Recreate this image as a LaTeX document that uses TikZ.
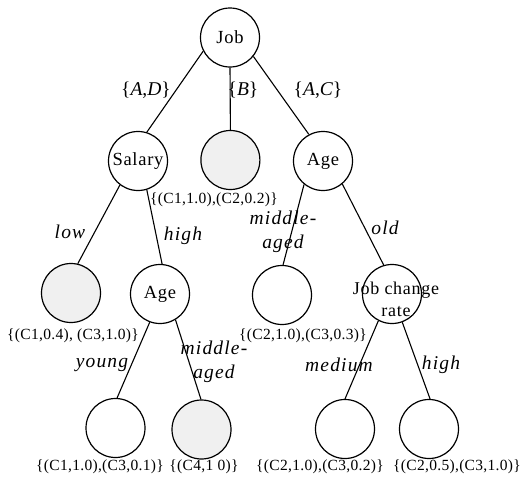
\documentclass[tikz,border=0pt]{standalone}
\usepackage{fontspec}
\setmainfont{Liberation Serif}
\begin{document}
\begin{tikzpicture}[x=1pt,y=-1pt,
  tn/.style={circle,draw,line width=1.2pt,minimum size=59pt,inner sep=0pt,font=\fontsize{18.5}{21}\selectfont\addfontfeature{LetterSpace=4}},
  sp/.style={fill=black!6},
  el/.style={font=\fontsize{19.5}{24}\selectfont\itshape\addfontfeature{LetterSpace=6},inner sep=0pt,align=center},
  ll/.style={font=\fontsize{15.5}{18}\selectfont\addfontfeature{LetterSpace=2},inner sep=0pt},
  ed/.style={line width=1.1pt}]
\useasboundingbox (0,0) rectangle (522,479);
% nodes
\node[tn] (job) at (230,37.5) {Job};
\node[tn] (sal) at (138,161) {Salary};
\node[tn,sp] (b) at (230.4,160) {};
\node[tn] (ager) at (323,161) {Age};
\node[tn,sp] (low) at (71,293) {};
\node[tn] (agel) at (160,294) {Age};
\node[tn] (mid) at (282,295) {};
\node[tn] (jcr) at (392,294) {};
\node[font=\fontsize{18}{22}\selectfont\addfontfeature{LetterSpace=4},align=center,inner sep=0pt] (jcrt) at (396,299) {Job change\\rate};
\node[tn] (young) at (115.5,428) {};
\node[tn,sp] (c4) at (201.5,429.5) {};
\node[tn] (med) at (345,429) {};
\node[tn] (high) at (429,429) {};
% edges
\draw[ed] (job.207) -- (sal.73);
\draw[ed] (job.270) -- (b.90);
\draw[ed] (job.321) -- (ager.118);
\draw[ed] (sal.233) -- (low.77);
\draw[ed] (sal.287) -- (agel.86);
\draw[ed] (ager.231) -- (mid.88);
\draw[ed] (ager.310) -- (jcr.106);
\draw[ed] (agel.250) -- (young.87);
\draw[ed] (agel.301) -- (c4.91);
\draw[ed] (jcr.243) -- (med.90);
\draw[ed] (jcr.290) -- (high.88);
% edge labels
\node[el] (lad) at (146,90) {\upshape\{\itshape A\upshape,\itshape D\upshape\}};
\node[el] (lb) at (243,90) {\upshape\{\itshape B\upshape\}};
\node[el] (lac) at (318,90) {\upshape\{\itshape A\upshape,\itshape C\upshape\}};
\node[el] (llow) at (70,232) {low};
\node[el] (lhigh1) at (183,236) {high};
\node[el] (lmid1) at (283,232) {middle-\\aged};
\node[el] (lold) at (385,228) {old};
\node[el] (lyoung) at (102,365) {young};
\node[el] (lmid2) at (214,362) {middle-\\aged};
\node[el] (lmed) at (339,365) {medium};
\node[el] (lhigh2) at (441,365) {high};
% leaf labels
\node[ll] (vb) at (214,200) {\{(C1,1.0),(C2,0.2)\}};
\node[ll] (vlow) at (73,336) {\{(C1,0.4), (C3,1.0)\}};
\node[ll] (vmid) at (303,336) {\{(C2,1.0),(C3,0.3)\}};
\node[ll] (vyoung) at (100,467) {\{(C1,1.0),(C3,0.1)\}};
\node[ll] (vc4) at (204,467) {\{(C4,1 0)\}};
\node[ll] (vmed) at (320,467) {\{(C2,1.0),(C3,0.2)\}};
\node[ll] (vhigh) at (457,467) {\{(C2,0.5),(C3,1.0)\}};
\end{tikzpicture}
\end{document}
